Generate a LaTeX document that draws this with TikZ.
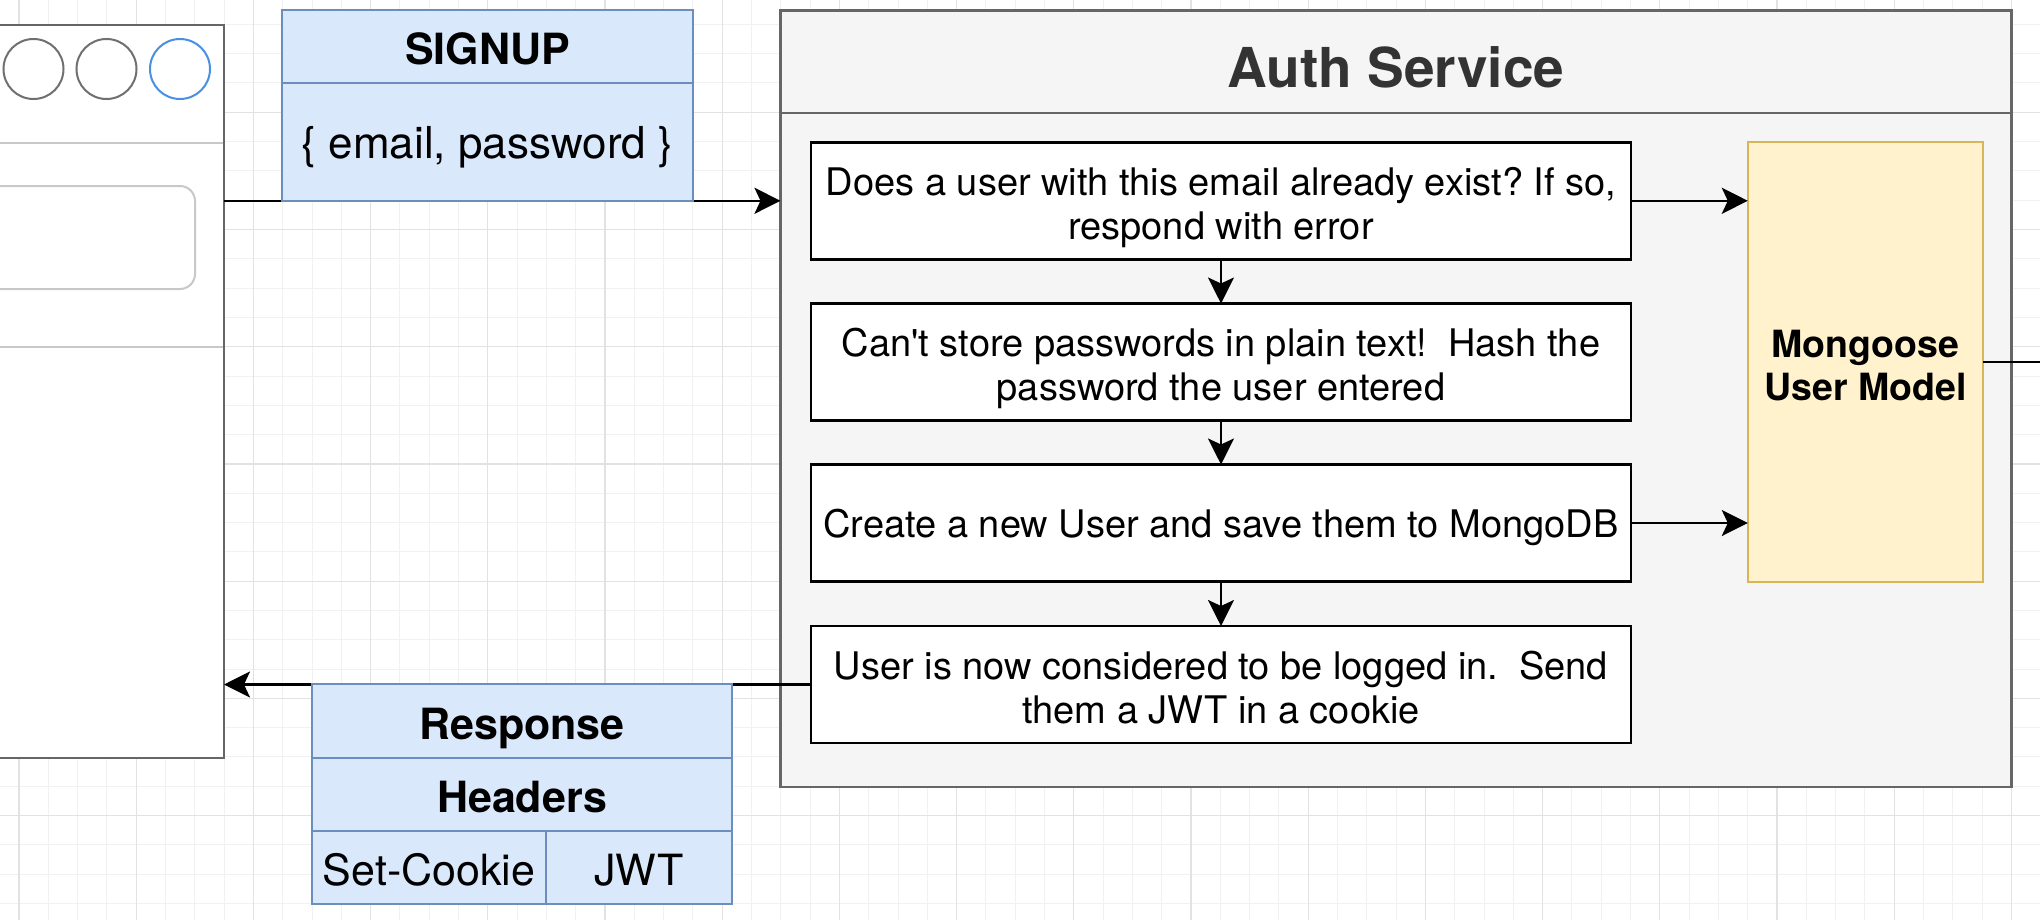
\documentclass[tikz,border=0pt]{standalone}
\usepackage{fontspec}
\setmainfont{TeX Gyre Heros}
\usetikzlibrary{arrows.meta}
\definecolor{bluefill}{HTML}{DAE8FC}
\definecolor{bluedraw}{HTML}{6C8EBF}
\definecolor{yelfill}{HTML}{FFF2CC}
\definecolor{yeldraw}{HTML}{D6B656}
\definecolor{svcfill}{HTML}{F5F5F5}
\definecolor{svcdraw}{HTML}{666666}
\definecolor{titlecol}{HTML}{333333}
\definecolor{gridminor}{HTML}{F1F1F1}
\definecolor{gridmajor}{HTML}{E2E2E2}
\definecolor{winline}{HTML}{C8C8C8}
\definecolor{circblue}{HTML}{4A90E2}
\definecolor{circgray}{HTML}{707070}
\begin{document}
\frenchspacing
\begin{tikzpicture}[x=0.5pt,y=-0.5pt,
  every node/.style={inner sep=0pt, outer sep=0pt},
  stepbox/.style={draw=black, line width=1.3pt, fill=white, minimum width=410pt, minimum height=58.5pt, align=center, font=\fontsize{19}{22}\selectfont},
  bluecell/.style={draw=bluedraw, fill=bluefill, line width=1pt, text height=18.5pt, text depth=0pt, font=\fontsize{21.5}{26}\selectfont},
  boldcell/.style={bluecell, font=\fontsize{21.5}{26}\selectfont\bfseries},
  conn/.style={line width=1.3pt, -{Stealth[length=13pt,width=13pt,inset=3pt]}},
  plainconn/.style={line width=1.3pt},
  minorgrid/.style={gridminor, line width=0.5pt},
  majorgrid/.style={gridmajor, line width=0.6pt},
  winsep/.style={winline, line width=1pt},
  dot/.style={circle, line width=1pt, minimum size=30pt, fill=white}
]
\useasboundingbox (0,0) rectangle (2040,920);
\clip (0,0) rectangle (2040,920);
\fill[white] (0,0) rectangle (2040,920);
% grid
\foreach \i in {0,...,69} \draw[minorgrid] ({19+\i*29.3},0) -- ({19+\i*29.3},920);
\foreach \j in {0,...,31} \draw[minorgrid] (0,{24.4+\j*29.3}) -- (2040,{24.4+\j*29.3});
\foreach \i in {0,...,17} \draw[majorgrid] ({19+\i*117.2},0) -- ({19+\i*117.2},920);
\foreach \j in {0,...,8} \draw[majorgrid] (0,{-4.9+\j*117.2}) -- (2040,{-4.9+\j*117.2});

% browser window
\node[draw=svcdraw, line width=1pt, fill=white, anchor=north east, minimum width=122pt, minimum height=366.5pt] (browser) at (224,25) {};
\node[dot, draw=circgray] (c1) at (33.5,69) {};
\node[dot, draw=circgray] (c2) at (106.5,69) {};
\node[dot, draw=circblue] (c3) at (180,69) {};
\draw[winsep] (-20,142.7) -- (223,142.7);
\draw[winsep] (-20,347.3) -- (223,347.3);
\draw[winsep, rounded corners=7.5pt] (-40,186) rectangle (195,289);

% auth service container
\node[draw=svcdraw, fill=svcfill, line width=1.2pt, minimum width=615.5pt, minimum height=388pt] (auth) at (1396,398.7) {};
\coordinate (tsep) at (1396,113);
\draw[svcdraw, line width=1.2pt] (auth.west |- tsep) -- (auth.east |- tsep);
\node[font=\fontsize{27.5}{33}\selectfont\bfseries, text=titlecol, text height=25pt, text depth=0pt] (title) at (1396,62.5) {Auth Service};

% steps
\node[stepbox, text height=43pt] (s1) at (1221,200.8) {Does a user with this email already exist? If so,\\respond with error};
\node[stepbox, text height=43pt] (s2) at (1221,362) {Can\textquotesingle t store passwords in plain text!\ \ Hash the\\password the user entered};
\node[stepbox, text height=19pt] (s3) at (1221,523) {Create a new User and save them to MongoDB};
\node[stepbox, text height=39pt] (s4) at (1221,684.5) {User is now considered to be logged in.\ \ Send\\them a JWT in a cookie};

\node[draw=yeldraw, fill=yelfill, line width=1pt, minimum width=117.6pt, minimum height=219.7pt, align=center, text height=38.5pt, font=\fontsize{18.75}{21.5}\selectfont\bfseries] (mg) at (1865.4,362) {Mongoose\\User Model};
\coordinate (outedge) at (2045,362);

% connectors
\draw[conn] (s1) -- (s2);
\draw[conn] (s2) -- (s3);
\draw[conn] (s3) -- (s4);
\draw[conn] (s1.east) -- (s1.east -| mg.west);
\draw[conn] (s3.east) -- (s3.east -| mg.west);
\draw[plainconn] (mg.east) -- (outedge);
\draw[conn] (browser.east |- s1) -- (auth.west |- s1);
\draw[conn] (s4.west) -- (browser.east |- s4);

% signup payload
\node[boldcell, minimum width=205.5pt, minimum height=36.5pt] (suH) at (487.5,46.5) {SIGNUP};
\node[bluecell, minimum width=205.5pt, minimum height=59pt, text height=17pt, font=\fontsize{22}{26}\selectfont] (suB) at (487.5,142) {\{ email, password \}};

% response payload
\node[boldcell, minimum width=210pt, minimum height=36.85pt] (rH1) at (522,720.85) {Response};
\node[boldcell, minimum width=210pt, minimum height=36.5pt] (rH2) at (522,794.2) {Headers};
\node[bluecell, minimum width=117pt, minimum height=36.8pt, text height=17.5pt] (rC1) at (429,867.5) {Set-Cookie};
\node[bluecell, minimum width=93pt, minimum height=36.8pt, text height=17.5pt] (rC2) at (639,867.5) {JWT};
\end{tikzpicture}
\end{document}
